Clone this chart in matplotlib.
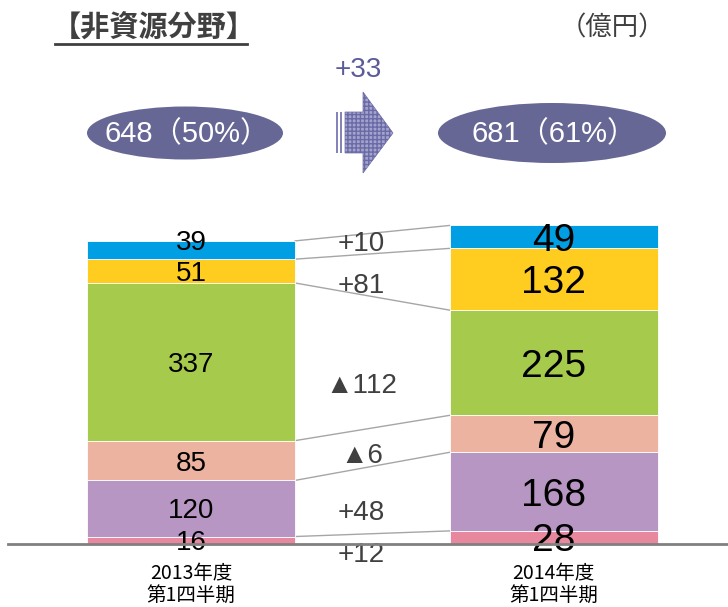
import matplotlib
matplotlib.use('Agg')
import matplotlib.pyplot as plt
from matplotlib.patches import Ellipse, Polygon, Rectangle
import numpy as np

plt.rcParams['font.family'] = ['Liberation Sans', 'Noto Sans CJK JP']

# data (bottom -> top)
periods = ['2013年度\n第1四半期', '2014年度\n第1四半期']
q2013 = [16, 120, 85, 337, 51, 39]
q2014 = [28, 168, 79, 225, 132, 49]
colors = ['#e8889e', '#b896c4', '#ecb3a0', '#a6cb4c', '#fecd1f', '#009fe3']
deltas = ['+12', '+48', '▲6', '▲112', '+81', '+10']
totals = ['648（50%）', '681（61%）']
total_change = '+33'

W, H = 728, 607
fig = plt.figure(figsize=(W / 100, H / 100), dpi=100)

def px(x, y):
    # pixel (top-left origin) -> figure fraction
    return x / W, 1 - y / H

ax = fig.add_axes([0, 63 / H, 1, 544 / H])
ax.set_xlim(-0.527, 1.481)
ax.set_ylim(0, 1163)
ax.axis('off')

bw = 0.574
for i, vals in enumerate([q2013, q2014]):
    ax.bar([i] * len(vals), vals, bw, bottom=np.r_[0, np.cumsum(vals)[:-1]],
           color=colors, edgecolor='white', linewidth=0.6, zorder=2)

# connector lines between tops of segments
c1 = np.cumsum(q2013)
c2 = np.cumsum(q2014)
for a, b in zip(c1, c2):
    ax.plot([bw / 2, 1 - bw / 2], [a, b], color='#a6a6a6', lw=1, zorder=1)

# value labels
b1 = np.r_[0, c1[:-1]]
b2 = np.r_[0, c2[:-1]]
for k, v in enumerate(q2013):
    y = b1[k] + v / 2
    if k == len(q2013) - 1:
        y += 22
    ax.text(0, y, str(v), ha='center', va='center_baseline', fontsize=20, color='black', zorder=3)
for k, v in enumerate(q2014):
    y = b2[k] + v / 2
    ax.text(1, y, str(v), ha='center', va='center_baseline', fontsize=28, color='black', zorder=3)

# change labels
dy = [-17, 73, 195, 344, 558, 648]
for d, y in zip(deltas, dy):
    ax.text(0.47, y, d, ha='center', va='center_baseline', fontsize=20, color='#404040')

# baseline
ax.plot([-0.527 + 8 / 362.5, 1.481], [0, 0], color='#808080', lw=2, clip_on=False, zorder=4)

# category labels
for i, lab in enumerate(periods):
    ax.text(i, -40, lab, ha='center', va='top', fontsize=14, color='black',
            family='Noto Sans CJK JP', linespacing=1.1)

# title and unit
fig.text(*px(52, 28), '【非資源分野】', ha='left', va='center', fontsize=21,
         fontweight='bold', color='#404040', family='Noto Sans CJK JP')
fig.add_artist(plt.Line2D([55 / W, 247 / W], [1 - 44 / H] * 2, color='#404040', lw=2))
fig.text(*px(612, 28), '（億円）', ha='center', va='center', fontsize=19,
         color='#404040', family='Noto Sans CJK JP')

# totals ellipses
for (cx, cy, ew, eh), t in zip([(185, 133, 196, 53), (552, 133, 228, 60)], totals):
    e = Ellipse(px(cx, cy), ew / W, eh / H, transform=fig.transFigure,
                facecolor='#676796', edgecolor='none')
    fig.add_artist(e)
    fig.text(*px(cx + 2, cy + 1), t, ha='center', va='center', fontsize=21, color='white')

# +33 and block arrow
fig.text(*px(358, 70), total_change, ha='center', va='center', fontsize=20, color='#5b5b99')
pts = [(345, 112), (363, 112), (363, 92), (393, 133), (363, 173), (363, 153), (345, 153)]
arrow = Polygon([px(*p) for p in pts], closed=True, transform=fig.transFigure,
                facecolor='#a3a3cc', edgecolor='#6a6aa6', hatch='++++', lw=0.5)
fig.add_artist(arrow)
for sx in [336, 339.5]:
    fig.add_artist(Rectangle(px(sx, 153), 2 / W, 41 / H, transform=fig.transFigure,
                             facecolor='#8484b8', edgecolor='none'))

fig.savefig('out.png', dpi=100)
